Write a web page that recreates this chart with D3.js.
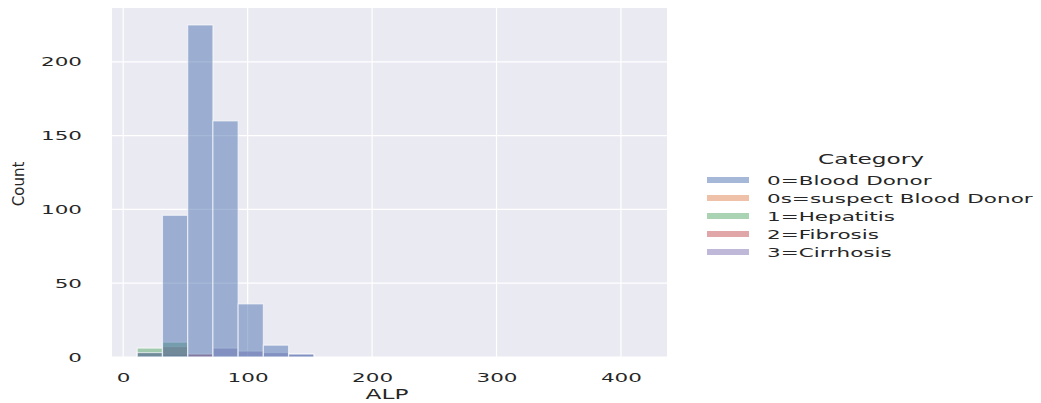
<!DOCTYPE html>
<html><head><meta charset="utf-8">
<script src="https://cdn.jsdelivr.net/npm/d3@7"></script>
<style>
body{margin:0;background:#fff;}
text{font-family:"DejaVu Sans",sans-serif;fill:#262626;}
</style></head>
<body><svg id="c" width="1041" height="403"></svg>
<script>
// ---- data ----
const categories = ["0=Blood Donor","0s=suspect Blood Donor","1=Hepatitis","2=Fibrosis","3=Cirrhosis"];
const binStart = 11.3, binWidth = 20.265, nBins = 20;
const donorCounts    = [3,96,225,160,36,8,2,0,0,0,0,0,0,0,0,0,0,0,0,0];
const suspectCounts  = [0,0,0,0,0,0,0,0,0,0,0,0,0,0,0,0,0,0,0,0];
const hepatitisCounts= [6,10,0,0,0,0,0,0,0,0,0,0,0,0,0,0,0,0,0,0];
const fibrosisCounts = [3,7,2,0,0,0,0,0,0,0,0,0,0,0,0,0,0,0,0,0];
const cirrhosisCounts= [0,2,2,6,4,3,2,0,0,0,0,0,0,0,0,0,0,0,0,0];
const seriesCounts = [donorCounts,suspectCounts,hepatitisCounts,fibrosisCounts,cirrhosisCounts];
const colors = ["#4C72B0","#DD8452","#55A868","#C44E52","#8172B3"];
const xTicks = [0,100,200,300,400];
const yTicks = [0,50,100,150,200];

const SX = 1.72;
const svg = d3.select("#c");
const L=112,R=667,T=8,B=357;
const x = d3.scaleLinear().domain([-9,437]).range([L,R]);
const y = d3.scaleLinear().domain([0,236.5]).range([B,T]);

svg.append("rect").attr("x",L).attr("y",T).attr("width",R-L).attr("height",B-T).attr("fill","#EAEAF2");
const g = svg.append("g");
g.selectAll(".vg").data(xTicks).join("line").attr("x1",d=>x(d)).attr("x2",d=>x(d)).attr("y1",T).attr("y2",B).attr("stroke","#fff").attr("stroke-width",1.2);
g.selectAll(".hg").data(yTicks).join("line").attr("x1",L).attr("x2",R).attr("y1",d=>y(d)).attr("y2",d=>y(d)).attr("stroke","#fff").attr("stroke-width",1.2);

// draw bars in reverse hue order (first category on top)
for (let k = categories.length-1; k>=0; k--) {
  const bins = seriesCounts[k].map((c,i)=>({x0:binStart+i*binWidth,x1:binStart+(i+1)*binWidth,c})).filter(b=>b.c>0);
  svg.append("g").selectAll("rect").data(bins).join("rect")
    .attr("x",b=>x(b.x0)).attr("width",b=>x(b.x1)-x(b.x0))
    .attr("y",b=>y(b.c)).attr("height",b=>y(0)-y(b.c))
    .attr("fill",colors[k]).attr("fill-opacity",0.5)
    .attr("stroke","#fff").attr("stroke-opacity",0.6).attr("stroke-width",1.2);
}

const xa = svg.append("g").attr("transform",`translate(0,${B})`)
  .call(d3.axisBottom(x).tickValues(xTicks).tickSize(0).tickPadding(16));
xa.select(".domain").remove();
xa.selectAll("text").attr("font-size",12.5).attr("font-family","DejaVu Sans").attr("fill","#262626").attr("transform",`scale(${SX},1)`);

const ya = svg.append("g").attr("transform",`translate(${L},0)`)
  .call(d3.axisLeft(y).tickValues(yTicks).tickSize(0).tickPadding(0));
ya.select(".domain").remove();
ya.selectAll("text").attr("font-size",12.5).attr("font-family","DejaVu Sans").attr("fill","#262626").attr("x",-30/SX).attr("transform",`scale(${SX},1)`);

function stext(xp,yp,str,size,anchor){
  return svg.append("text").attr("transform",`translate(${xp},${yp}) scale(${SX},1)`)
    .attr("font-size",size).attr("text-anchor",anchor).text(str);
}
stext(387,399,"ALP",13.5,"middle");
svg.append("text").attr("transform",`translate(24,184) rotate(-90)`).attr("font-size",15)
  .attr("text-anchor","middle").attr("font-family","Liberation Sans Narrow, Liberation Sans").text("Count");

// legend
stext(871,164,"Category",13.5,"middle");
categories.forEach((c,i)=>{
  const yy = 180 + i*18;
  svg.append("rect").attr("x",707).attr("y",yy-3).attr("width",42).attr("height",6)
    .attr("fill",colors[i]).attr("fill-opacity",0.5);
  stext(767,yy+4.5,c,12.5,"start");
});
</script></body></html>
